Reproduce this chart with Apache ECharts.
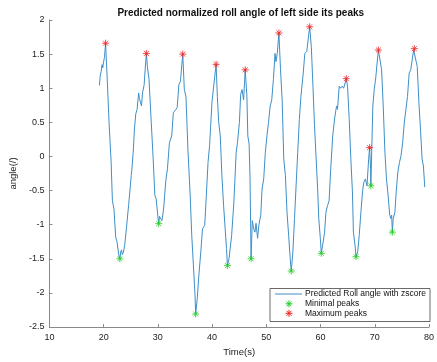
<!DOCTYPE html>
<html>
<head>
<meta charset="utf-8">
<script src="https://cdn.jsdelivr.net/npm/echarts@6/dist/echarts.min.js"></script>
<style>html,body{margin:0;padding:0;background:#fff}#c{width:437px;height:362px}</style>
</head>
<body>
<div id="c"></div>
<script>
var lineTime = [19.23,19.35,19.55,19.71,19.85,19.95,20.15,20.36,20.72,21.0,21.38,21.62,21.9,22.22,22.46,22.8,22.99,23.15,23.3,23.45,23.65,23.89,24.19,24.6,25.09,25.2,25.45,25.68,25.92,26.17,26.46,26.6,26.76,26.99,27.17,27.47,27.65,27.89,28.06,28.37,28.78,29.14,29.44,29.68,29.98,30.16,30.3,30.47,30.75,31.06,31.47,31.77,32.13,32.55,32.85,33.33,33.57,33.87,34.16,34.59,34.88,35.18,35.54,35.96,36.25,36.55,36.85,36.97,37.27,37.56,37.92,38.23,38.64,38.94,39.25,39.54,39.97,40.32,40.74,40.97,41.22,41.51,41.81,42.12,42.41,42.66,42.83,43.12,43.3,43.6,44.02,44.44,44.68,45.04,45.27,45.52,45.81,46.11,46.42,46.59,46.83,47.0,47.19,47.42,47.67,47.9,48.1,48.39,48.62,48.98,49.21,49.52,49.82,50.11,50.41,50.71,51.0,51.31,51.61,51.78,52.02,52.32,52.62,52.92,53.22,53.52,53.82,54.12,54.41,54.6,54.9,55.2,55.49,55.79,56.09,56.38,56.81,57.1,57.46,57.71,57.99,58.3,58.6,58.89,59.19,59.49,59.67,59.96,60.14,60.39,60.75,60.99,61.29,61.58,61.88,62.24,62.65,62.96,63.13,63.44,63.7,63.98,64.26,64.75,64.98,65.29,65.59,65.88,66.06,66.36,66.54,66.84,67.13,67.44,67.74,67.97,68.27,68.57,68.87,69.05,69.23,69.28,69.46,69.64,69.9,70.18,70.43,70.67,70.97,71.26,71.56,71.87,72.16,72.46,72.76,72.94,73.12,73.24,73.41,73.71,73.95,74.25,74.55,74.84,75.14,75.45,75.74,76.04,76.34,76.63,76.94,77.17,77.3,77.53,77.83,78.14,78.43,78.73,78.97,79.22];
var lineAngle = [1.04,1.17,1.25,1.345,1.30,1.37,1.45,1.66,1.03,0.50,-0.08,-0.65,-0.77,-1.18,-1.25,-1.45,-1.50,-1.40,-1.37,-1.44,-1.40,-1.30,-1.06,-0.72,-0.28,-0.20,0.06,0.40,0.62,0.69,0.93,0.85,0.86,0.74,0.93,1.05,1.27,1.51,1.32,1.13,0.50,-0.04,-0.57,-0.62,-0.86,-0.985,-0.88,-0.86,-0.94,-0.77,-0.35,-0.18,0.20,0.30,0.64,0.69,0.72,1.05,1.10,1.50,0.98,0.88,0.11,-0.57,-1.16,-1.59,-2.03,-2.31,-2.08,-1.74,-1.40,-1.06,-1.01,-0.57,-0.09,0.16,0.79,1.05,1.35,0.88,0.50,0.30,-0.28,-0.72,-1.06,-1.35,-1.60,-1.50,-1.52,-1.16,-0.67,0.06,0.20,0.50,0.91,0.98,0.83,1.27,0.88,0.30,0.18,-0.33,-1.50,-0.94,-1.06,-1.11,-0.98,-1.20,-1.01,-0.86,-0.48,-0.33,0.06,0.30,0.50,0.74,0.83,1.13,1.51,1.39,1.51,1.81,1.27,0.83,-0.04,-0.28,-0.82,-1.16,-1.50,-1.68,-1.40,-0.91,-0.43,0.06,0.54,0.88,1.22,1.51,1.54,1.71,1.90,1.61,1.03,0.45,-0.04,-0.52,-0.91,-1.20,-1.42,-1.30,-1.11,-0.82,-0.72,-0.65,-0.18,0.30,0.59,0.74,0.69,1.03,1.00,1.03,1.00,1.14,1.03,0.54,-0.04,-0.52,-1.11,-1.30,-1.47,-1.40,-1.16,-0.82,-0.52,-0.38,-0.33,-0.43,-0.04,0.13,-0.18,-0.43,0.15,0.74,0.98,1.15,1.37,1.56,1.54,1.27,0.74,0.06,-0.33,-0.57,-0.86,-0.91,-0.86,-1.11,-0.91,-0.82,-0.52,-0.23,-0.09,0.01,0.20,0.50,0.69,0.88,1.22,1.27,1.27,1.56,1.58,1.57,1.32,0.79,0.40,-0.04,-0.14,-0.45];
var maxTime = [20.36,27.89,34.59,40.74,46.11,52.32,57.99,64.75,69.05,70.67,77.3];
var maxAngle = [1.66,1.51,1.50,1.35,1.27,1.81,1.90,1.14,0.13,1.56,1.58];
var minTime = [22.99,30.16,36.97,42.83,47.19,54.6,60.14,66.54,69.28,73.24];
var minAngle = [-1.50,-0.985,-2.31,-1.60,-1.50,-1.68,-1.42,-1.47,-0.43,-1.11];
var seriesNames = ['Predicted Roll angle with zscore','Minimal peaks','Maximum peaks'];
var titleText = 'Predicted normalized roll angle of left side its peaks';
var xName = 'Time(s)';
var yName = 'angle(/)';

function zip(a, b) { return a.map(function (v, i) { return [v, b[i]]; }); }
var star = 'path://M5,0L5,10M0,5L10,5M1.5,1.5L8.5,8.5M1.5,8.5L8.5,1.5';
var font = '"Liberation Sans", Arial, Helvetica, sans-serif';
var lineColor = '#3d8fc8', minColor = '#22cc22', maxColor = '#ee2222';

function starLines(cx, cy, r, color) {
  var d = r * 0.7;
  var segs = [[0, -r, 0, r], [-r, 0, r, 0], [-d, -d, d, d], [-d, d, d, -d]];
  return segs.map(function (s) {
    return {type: 'line', shape: {x1: cx + s[0], y1: cy + s[1], x2: cx + s[2], y2: cy + s[3]},
      style: {stroke: color, lineWidth: 1}, z: 11};
  });
}

var lgX = 270, lgY = 288.5, lgW = 160, lgH = 33, rowY = [294, 303.8, 313.3];
var legendGraphic = [
  {type: 'rect', shape: {x: lgX, y: lgY, width: lgW, height: lgH}, style: {fill: '#fff', stroke: '#444', lineWidth: 0.8}, z: 10},
  {type: 'line', shape: {x1: 275, y1: rowY[0], x2: 302, y2: rowY[0]}, style: {stroke: lineColor, lineWidth: 1}, z: 11}
].concat(starLines(289, rowY[1], 3.5, minColor), starLines(289, rowY[2], 3.5, maxColor));
seriesNames.forEach(function (n, i) {
  legendGraphic.push({type: 'text', x: 305, y: rowY[i], style: {text: n, fontSize: 8.5, fontFamily: font, fill: '#111', verticalAlign: 'middle', align: 'left'}, z: 11});
});

var chart = echarts.init(document.getElementById('c'), null, {renderer: 'canvas'});
chart.setOption({
  animation: false,
  backgroundColor: '#fff',
  textStyle: {fontFamily: font},
  title: {
    text: titleText, left: 235.75, top: 3, textAlign: 'center',
    textStyle: {fontSize: 10, fontWeight: 'bold', color: '#111', fontFamily: font}
  },
  grid: {left: 40.5, right: 6, top: 20, bottom: 33.5, containLabel: false},
  xAxis: {
    type: 'value', min: 10, max: 80, interval: 10,
    name: xName, nameLocation: 'middle', nameGap: 20,
    nameTextStyle: {fontSize: 9.5, color: '#222', fontFamily: font},
    axisLine: {show: true, onZero: false, lineStyle: {color: '#8a8a8a', width: 1}},
    axisTick: {show: true, inside: true, length: 3, lineStyle: {color: '#8a8a8a'}},
    axisLabel: {fontSize: 9, color: '#222', margin: 6, fontFamily: font},
    splitLine: {show: false}
  },
  yAxis: {
    type: 'value', min: -2.5, max: 2, interval: 0.5,
    name: yName, nameLocation: 'middle', nameGap: 22, nameRotate: 90,
    nameTextStyle: {fontSize: 9.5, color: '#222', fontFamily: font},
    axisLine: {show: true, onZero: false, lineStyle: {color: '#8a8a8a', width: 1}},
    axisTick: {show: true, inside: true, length: 3, lineStyle: {color: '#8a8a8a'}},
    axisLabel: {fontSize: 9, color: '#222', margin: 5, fontFamily: font},
    splitLine: {show: false}
  },
  graphic: legendGraphic,
  series: [
    {
      name: seriesNames[0], type: 'line', data: zip(lineTime, lineAngle),
      symbol: 'none', showSymbol: false,
      lineStyle: {color: lineColor, width: 1}, itemStyle: {color: lineColor}, z: 2
    },
    {
      name: seriesNames[1], type: 'scatter', data: zip(minTime, minAngle),
      symbol: star, symbolSize: 7,
      itemStyle: {color: minColor, borderColor: minColor, borderWidth: 1}, z: 3
    },
    {
      name: seriesNames[2], type: 'scatter', data: zip(maxTime, maxAngle),
      symbol: star, symbolSize: 7,
      itemStyle: {color: maxColor, borderColor: maxColor, borderWidth: 1}, z: 3
    }
  ]
});
</script>
</body>
</html>
